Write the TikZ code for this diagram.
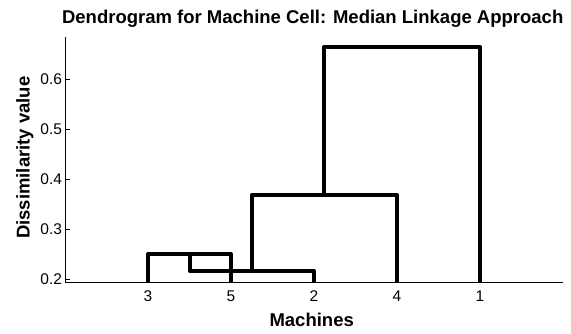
\documentclass[tikz,border=0pt]{standalone}
\usepackage{fontspec}
\setmainfont{Liberation Sans}
\begin{document}
\begin{tikzpicture}[x=1pt,y=1pt,
  link/.style={line width=4pt, line join=round},
  axisline/.style={line width=0.9pt},
  ticklab/.style={font=\fontsize{15.5}{18}\selectfont, inner sep=0pt},
  axlab/.style={font=\bfseries\fontsize{18.5}{22}\selectfont, inner sep=0pt}]
\useasboundingbox (0,0) rectangle (571,334);
\begin{scope}[shift={(65,54.7)}, x=83pt, y=500pt]
  % axis corners
  \coordinate (O) at (0,-0.0068);
  \coordinate (Ytop) at (0,0.4846);
  \coordinate (Xend) at (6,-0.0068);
  % leaves
  \coordinate (L3) at (1,-0.0068);
  \coordinate (L5) at (2,-0.0068);
  \coordinate (L2) at (3,-0.0068);
  \coordinate (L4) at (4,-0.0068);
  \coordinate (L1) at (5,-0.0068);
  % merges
  \coordinate (M35) at (1.5,0.05);
  \coordinate (M352) at (2.25,0.0166);
  \coordinate (M3524) at (3.125,0.1686);
  \coordinate (Mtop) at (4.0625,0.465);
  % axes
  \draw[axisline] (Ytop) -- (O) -- (Xend);
  \foreach \v/\t in {0/0.2,0.1/0.3,0.2/0.4,0.3/0.5,0.4/0.6}{
    \draw[axisline] (0,\v) -- ++(5pt,0);
    \node[ticklab, anchor=east, xshift=-2.8pt] (yt\t) at (0,\v) {\t};
  }
  \foreach \i/\t in {1/3,2/5,3/2,4/4,5/1}{
    \node[ticklab, anchor=base, yshift=-19pt] (xt\t) at (L\t) {\t};
  }
  % dendrogram
  \draw[link] (L3) |- (M35) -| (L5);
  \draw[link] (M35) |- (M352) -| (L2);
  \draw[link] (M352) |- (M3524) -| (L4);
  \draw[link] (M3524) |- (Mtop) -| (L1);
\end{scope}
\node[axlab, anchor=base] (title) at (312.7,310.7) {Dendrogram for Machine Cell: Median Linkage Approach};
\node[axlab, anchor=base] (xlabel) at (311.7,7.3) {Machines};
\node[axlab, anchor=base, rotate=90] (ylabel) at (29.5,176.3) {Dissimilarity value};
\end{tikzpicture}
\end{document}
